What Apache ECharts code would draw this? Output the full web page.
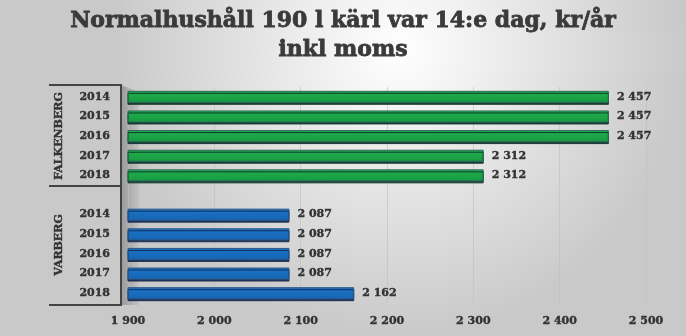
<!DOCTYPE html>
<html><head><meta charset="utf-8">
<script src="https://cdn.jsdelivr.net/npm/echarts@6/dist/echarts.min.js"></script>
<style>html,body{margin:0;padding:0}#c{width:686px;height:336px}</style>
</head><body><div id="c"></div>
<script>
const titleText = 'Normalhushåll 190 l kärl var 14:e dag, kr/år\ninkl moms';
const groups = ['FALKENBERG', 'VARBERG'];
const years = ['2014', '2015', '2016', '2017', '2018'];
const falkenberg = [2457, 2457, 2457, 2312, 2312];
const varberg = [2087, 2087, 2087, 2087, 2162];
const xMin = 1900, xMax = 2500, xStep = 100;

const categories = [...years, '', ...years];
const fmt = v => String(Math.round(v)).replace(/\B(?=(\d{3})+(?!\d))/g, ' ');
const FONT = '"DejaVu Serif", serif';
const heavy = { textBorderColor: '#333', textBorderWidth: 0.4 };

const greenData = [...falkenberg, '-', ...years.map(() => '-')];
const blueData = [...years.map(() => '-'), '-', ...varberg];

const barCommon = {
  type: 'bar', barWidth: 12, barGap: '-100%',
  label: Object.assign({ show: true, position: 'right', distance: 8, formatter: p => fmt(p.value),
    fontFamily: FONT, fontWeight: 'bold', fontSize: 11, color: '#333' }, heavy)
};

const chart = echarts.init(document.getElementById('c'));
chart.setOption({
  animation: false,
  title: { text: titleText, left: 'center', top: 2,
    textStyle: { fontFamily: FONT, fontWeight: 'bold', fontSize: 22, lineHeight: 29, color: '#3a3a3a',
      textBorderColor: '#3a3a3a', textBorderWidth: 0.8 } },
  grid: { left: 128, right: 40, top: 87, bottom: 33 },
  xAxis: { type: 'value', min: xMin, max: xMax, interval: xStep,
    axisLine: { show: false }, axisTick: { show: false },
    splitLine: { lineStyle: { color: 'rgba(190,190,190,0.6)', width: 1 } },
    axisLabel: Object.assign({ formatter: fmt, margin: 13, fontFamily: FONT, fontWeight: 'bold', fontSize: 11, color: '#333' }, heavy) },
  yAxis: { type: 'category', data: categories, inverse: true,
    axisLine: { show: false }, axisTick: { show: false },
    axisLabel: Object.assign({ margin: 18, fontFamily: FONT, fontWeight: 'bold', fontSize: 11, color: '#333' }, heavy) },
  graphic: [
    { type: 'rect', z: -10, silent: true, shape: { x: 0, y: 0, width: 686, height: 336 },
      style: { fill: new echarts.graphic.RadialGradient(0.58, 0.15, 0.85, [
        { offset: 0, color: '#ffffff' }, { offset: 1, color: '#c9c9c9' }]) } },
    { type: 'polygon', z: -5, silent: true,
      shape: { points: [[121, 85], [139, 92], [139, 305], [121, 305]] },
      style: { fill: new echarts.graphic.LinearGradient(0, 0, 1, 0, [
        { offset: 0, color: '#9a9a9a' }, { offset: 1, color: '#c2c2c2' }]) } },
    { type: 'polyline', z: 10, silent: true, shape: { points: [[49, 85], [121, 85], [121, 306]] },
      style: { stroke: '#444', lineWidth: 2, fill: null } },
    { type: 'line', z: 10, silent: true, shape: { x1: 49, y1: 186, x2: 121, y2: 186 },
      style: { stroke: '#444', lineWidth: 2 } },
    { type: 'line', z: 10, silent: true, shape: { x1: 49, y1: 305, x2: 121, y2: 305 },
      style: { stroke: '#444', lineWidth: 2 } },
    { type: 'text', z: 10, silent: true, x: 59, y: 136, rotation: Math.PI / 2,
      style: { text: groups[0], fontFamily: FONT, fontWeight: 'bold', fontSize: 11, fill: '#333',
        stroke: '#333', lineWidth: 0.4, align: 'center', verticalAlign: 'middle' } },
    { type: 'text', z: 10, silent: true, x: 59, y: 245, rotation: Math.PI / 2,
      style: { text: groups[1], fontFamily: FONT, fontWeight: 'bold', fontSize: 11, fill: '#333',
        stroke: '#333', lineWidth: 0.4, align: 'center', verticalAlign: 'middle' } }
  ],
  series: [
    Object.assign({}, barCommon, { name: groups[0], data: greenData,
      itemStyle: { color: new echarts.graphic.LinearGradient(0, 0, 0, 1, [
        { offset: 0, color: '#22b04e' }, { offset: 1, color: '#169a40' }]),
        borderColor: '#2d6a5a', borderWidth: 1,
        shadowColor: 'rgba(10,50,40,0.9)', shadowOffsetY: 2, shadowOffsetX: 0, shadowBlur: 0 } }),
    Object.assign({}, barCommon, { name: groups[1], data: blueData,
      itemStyle: { color: new echarts.graphic.LinearGradient(0, 0, 0, 1, [
        { offset: 0, color: '#1e74c6' }, { offset: 1, color: '#1465b4' }]),
        borderColor: '#2a5a8a', borderWidth: 1,
        shadowColor: 'rgba(20,40,80,0.9)', shadowOffsetY: 2, shadowOffsetX: 0, shadowBlur: 0 } })
  ]
});
</script>
</body></html>
